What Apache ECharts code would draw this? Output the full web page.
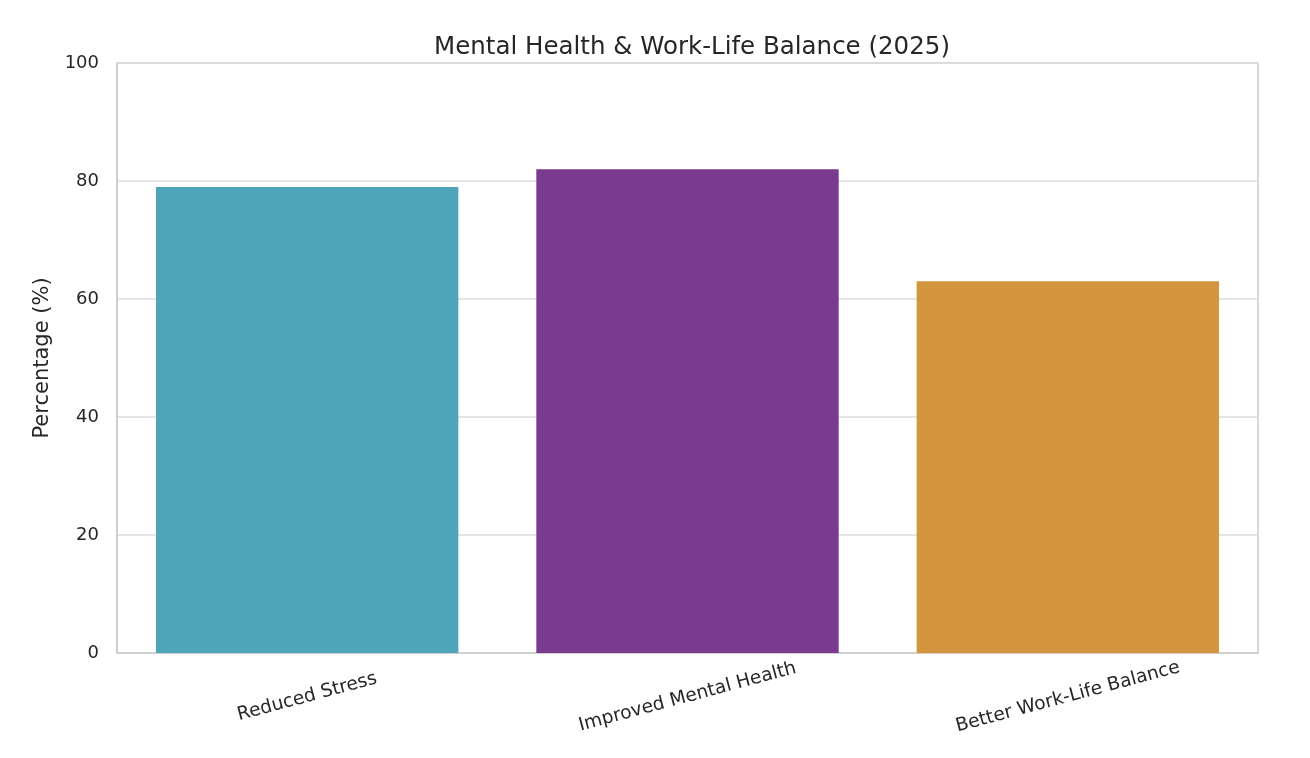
<!DOCTYPE html>
<html>
<head>
<meta charset="utf-8">
<script src="https://cdn.jsdelivr.net/npm/echarts@6/dist/echarts.min.js"></script>
<style>html,body{margin:0;padding:0;background:#fff;}#c{width:1310px;height:758px;}</style>
</head>
<body>
<div id="c"></div>
<script>
const categories = ["Reduced Stress", "Improved Mental Health", "Better Work-Life Balance"];
const values = [79, 82, 63];
const colors = ["#4EA5B8", "#7A3A8F", "#D4953F"];
const yTicks = [0, 20, 40, 60, 80, 100];

const chart = echarts.init(document.getElementById('c'));
const font = "DejaVu Sans";
chart.setOption({
  animation: false,
  backgroundColor: '#ffffff',
  title: {
    text: 'Mental Health & Work-Life Balance (2025)',
    left: 687, top: 30, textAlign: 'center',
    textStyle: { fontFamily: font, fontSize: 24.5, fontWeight: 'normal', color: '#262626' }
  },
  grid: { left: 117, right: 52, top: 63, bottom: 105, show: true, borderColor: '#cccccc', borderWidth: 1.5, containLabel: false },
  xAxis: {
    type: 'category',
    data: categories,
    axisLine: { show: true, lineStyle: { color: '#cccccc', width: 1.5 } },
    axisTick: { show: false },
    axisLabel: { rotate: 15, align: 'center', verticalAlign: 'middle', margin: 44, fontFamily: font, fontSize: 18.6, color: '#262626' }
  },
  yAxis: {
    type: 'value', min: yTicks[0], max: yTicks[yTicks.length - 1], interval: 20,
    name: 'Percentage (%)', nameLocation: 'middle', nameGap: 64,
    nameTextStyle: { fontFamily: font, fontSize: 21, color: '#262626' },
    axisLine: { show: true, lineStyle: { color: '#cccccc', width: 1.5 } },
    axisTick: { show: false },
    axisLabel: { fontFamily: font, fontSize: 18, color: '#262626', margin: 18 },
    splitLine: { show: true, lineStyle: { color: '#dddddd', width: 1.5 } }
  },
  series: [{
    type: 'bar',
    data: values.map((v, i) => ({ value: v, itemStyle: { color: colors[i] } })),
    barWidth: '79.5%'
  }]
});
</script>
</body>
</html>
